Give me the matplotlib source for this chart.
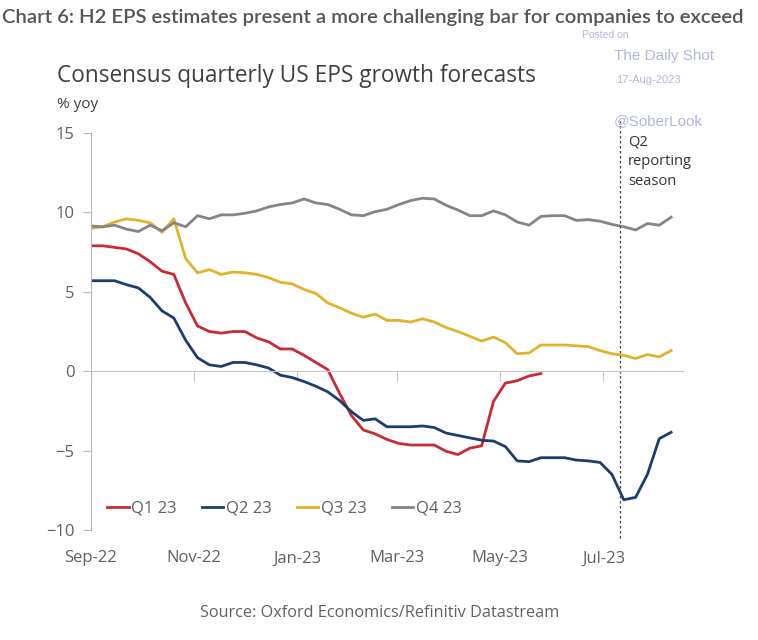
import numpy as np
import pandas as pd
import matplotlib
matplotlib.use('Agg')
import matplotlib.pyplot as plt

plt.rcParams['font.family'] = ['Open Sans', 'DejaVu Sans']

dates = pd.date_range('2022-09-01', periods=50, freq='7D')

q1_23 = [7.9, 7.9, 7.8, 7.7, 7.4, 6.9, 6.3, 6.1, 4.3, 2.85,
         2.5, 2.4, 2.5, 2.5, 2.1, 1.85, 1.4, 1.4, 1.0, 0.55,
         0.1, -1.4, -2.8, -3.7, -3.95, -4.3, -4.55, -4.65, -4.65, -4.65,
         -5.05, -5.25, -4.85, -4.7, -1.9, -0.75, -0.6, -0.3, -0.15]
q2_23 = [5.7, 5.7, 5.7, 5.45, 5.25, 4.65, 3.8, 3.35, 1.95, 0.85,
         0.4, 0.3, 0.55, 0.55, 0.4, 0.2, -0.25, -0.4, -0.65, -0.95,
         -1.3, -1.85, -2.55, -3.1, -3.0, -3.5, -3.5, -3.5, -3.45, -3.55,
         -3.9, -4.05, -4.2, -4.35, -4.4, -4.75, -5.65, -5.7, -5.45, -5.45,
         -5.45, -5.6, -5.65, -5.75, -6.5, -8.1, -7.95, -6.5, -4.25, -3.85]
q3_23 = [9.0, 9.1, 9.4, 9.6, 9.5, 9.35, 8.75, 9.6, 7.1, 6.2,
         6.4, 6.1, 6.25, 6.2, 6.1, 5.9, 5.6, 5.5, 5.15, 4.9,
         4.3, 4.0, 3.65, 3.4, 3.6, 3.2, 3.2, 3.1, 3.3, 3.1,
         2.75, 2.5, 2.2, 1.9, 2.15, 1.8, 1.1, 1.15, 1.65, 1.65,
         1.65, 1.6, 1.55, 1.3, 1.1, 1.0, 0.8, 1.05, 0.9, 1.3]
q4_23 = [9.15, 9.1, 9.2, 8.95, 8.8, 9.2, 8.85, 9.35, 9.1, 9.8,
         9.6, 9.85, 9.85, 9.95, 10.1, 10.35, 10.5, 10.6, 10.85, 10.6,
         10.5, 10.2, 9.85, 9.8, 10.05, 10.2, 10.5, 10.75, 10.9, 10.85,
         10.45, 10.15, 9.8, 9.8, 10.1, 9.85, 9.4, 9.2, 9.75, 9.8,
         9.8, 9.5, 9.55, 9.45, 9.25, 9.1, 8.9, 9.3, 9.2, 9.7]

tick_dates = pd.to_datetime(['2022-09-01', '2022-11-01', '2023-01-01',
                             '2023-03-01', '2023-05-01', '2023-07-01'])
tick_labels = ['Sep-22', 'Nov-22', 'Jan-23', 'Mar-23', 'May-23', 'Jul-23']
q2_season = pd.Timestamp('2023-07-11')

fig = plt.figure(figsize=(7.58, 6.40), dpi=100)
ax = fig.add_axes([0.120, 0.172, 0.781, 0.620])

ax.plot(dates[:len(q1_23)], q1_23, color='#cc2936', lw=2, label='Q1 23')
ax.plot(dates, q2_23, color='#1d3c6e', lw=2, label='Q2 23')
ax.plot(dates, q3_23, color='#e1b22c', lw=2, label='Q3 23')
ax.plot(dates, q4_23, color='#858585', lw=2, label='Q4 23')

# start of Q2 reporting season
ax.axvline(q2_season, ymin=-0.02, ymax=1.03, color='#444444', lw=0.9,
           ls=(0, (2, 2)), clip_on=False)

ax.set_ylim(-10, 15)
ax.set_yticks([-10, -5, 0, 5, 10, 15])
ax.set_xlim(pd.Timestamp('2022-09-01'), pd.Timestamp('2023-08-17'))
ax.set_xticks(tick_dates)
ax.set_xticklabels(tick_labels)

for s in ['top', 'right']:
    ax.spines[s].set_visible(False)
ax.spines['bottom'].set_position(('data', 0))
ax.spines['bottom'].set_color('#c8c8c8')
ax.spines['left'].set_color('#b8b8b8')
ax.tick_params(axis='x', direction='out', length=7, color='#c8c8c8',
               labelsize=12, labelcolor='#606060', pad=122)
ax.tick_params(axis='y', direction='out', length=6, color='#b8b8b8',
               labelsize=12, labelcolor='#606060', pad=6)

leg = ax.legend(loc='center left', bbox_to_anchor=(0.027, 0.053), ncol=4,
                frameon=False, fontsize=12, handlelength=1.3,
                handletextpad=0.15, columnspacing=1.5, borderpad=0,
                borderaxespad=0)
for t in leg.get_texts():
    t.set_color('#606060')

fig.text(2 / 758, 1 - 18 / 640,
         'Chart 6: H2 EPS estimates present a more challenging bar for companies to exceed',
         fontsize=14.6, fontweight='semibold', color='#555555', va='center',
         family=['Lato', 'DejaVu Sans'])
fig.text(57 / 758, 1 - 76 / 640, 'Consensus quarterly US EPS growth forecasts',
         fontsize=16.3, color='#404040', va='center')
fig.text(57 / 758, 1 - 105 / 640, '% yoy', fontsize=11, color='#404040',
         va='center')
fig.text(628 / 758, 1 - 134 / 640, 'Q2\nreporting\nseason', fontsize=10.5,
         color='#333333', va='top', linespacing=1.45)
fig.text(380 / 758, 1 - 613 / 640,
         'Source: Oxford Economics/Refinitiv Datastream',
         fontsize=11.7, color='#606060', ha='center', va='center')

wm = '#b3b7dc'
fig.text(582 / 758, 1 - 35 / 640, 'Posted on', fontsize=7.5, color=wm,
         va='center', family=['Liberation Sans', 'DejaVu Sans'])
fig.text(614 / 758, 1 - 56 / 640, 'The Daily Shot', fontsize=11, color=wm,
         va='center', family=['Liberation Sans', 'DejaVu Sans'])
fig.text(616 / 758, 1 - 80 / 640, '17-Aug-2023', fontsize=8, color=wm,
         va='center', family=['Liberation Sans', 'DejaVu Sans'])
fig.text(614 / 758, 1 - 121 / 640, '@SoberLook', fontsize=11, color=wm,
         va='center', family=['Liberation Sans', 'DejaVu Sans'])

fig.savefig('out.png', dpi=100)
